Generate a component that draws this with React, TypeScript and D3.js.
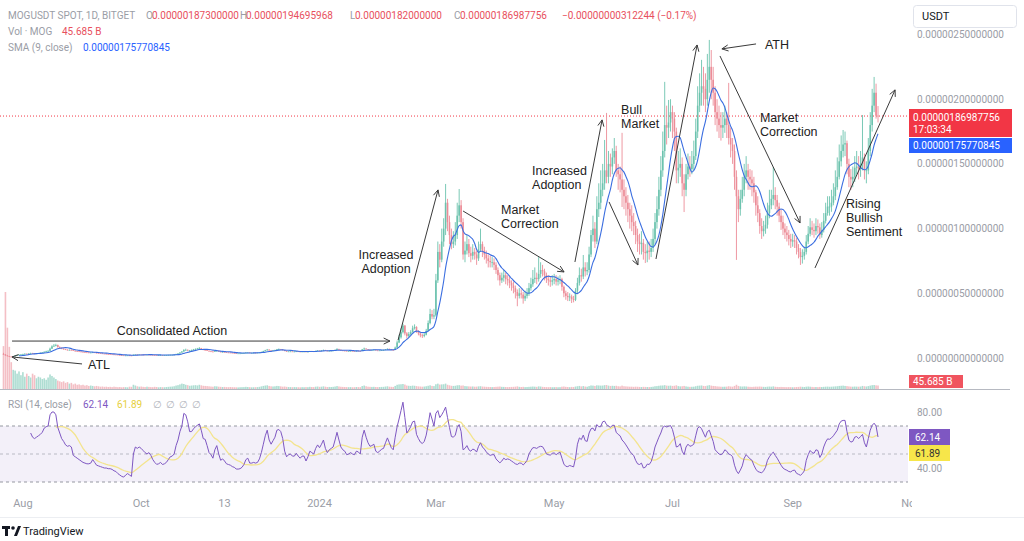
import React from 'react';
import * as d3 from 'd3';

// ---------- DATA (price in units of 1e-9 USDT) ----------
const START_UTC = Date.UTC(2023, 6, 22); // first daily candle
const DAY_MS = 86400000;
const FIRST_OPEN = 32;

const closes = [
  28, 20, 15, 11, 9, 13, 18, 22, 25, 28,
  30, 33, 31, 35, 38, 36, 34, 36, 38, 40,
  43, 48, 52, 55, 72, 90, 95, 100, 85, 78,
  72, 68, 64, 62, 63, 62, 56, 54, 52, 50,
  48, 46, 44, 43, 42, 42, 44, 41, 39, 38,
  36, 34, 33, 31, 30, 29, 28, 27, 26, 24,
  22, 21, 20, 20, 20.5, 19.5, 19, 25, 27, 26,
  27, 26.5, 26, 25.5, 26, 25.5, 24.5, 23.5, 22.5, 22,
  22.5, 23, 22, 22.5, 23, 24, 25, 25.5, 27, 31,
  35, 42, 50, 62, 63, 58, 58, 62, 66, 70,
  73, 76, 70, 63, 62, 56, 52, 50, 48, 54,
  57, 50, 46, 47, 45, 43, 42, 41, 39, 38,
  36, 36, 36, 37, 39, 42, 43, 40, 40, 41,
  40, 41, 43, 47, 53, 60, 65, 58, 56, 59,
  62, 67, 68, 66, 61, 54, 50, 51, 51, 50,
  50, 52, 50, 49, 50, 50, 47, 49, 53, 52,
  51, 55, 58, 56, 59, 62, 57, 54, 56, 57,
  58, 63, 70, 64, 59, 57, 56, 53, 54, 55,
  54, 53, 56, 55, 54, 66, 73, 68, 64, 62,
  63, 64, 59, 58, 59, 61, 62, 67, 71, 67,
  63, 62, 80, 120, 160, 200, 250, 190, 170, 185,
  200, 230, 240, 205, 190, 175, 170, 180, 210, 270,
  340, 320, 330, 600, 820, 760, 900, 1000, 1200, 1050,
  950, 880, 900, 950, 1100, 1180, 1050, 800, 830, 880,
  810, 790, 820, 800, 770, 840, 880, 830, 800, 770,
  750, 740, 740, 720, 680, 640, 600, 620, 640, 610,
  600, 580, 560, 540, 510, 480, 500, 490, 460, 480,
  500, 540, 570, 610, 620, 610, 650, 680, 670, 640,
  610, 600, 590, 600, 610, 590, 600, 610, 550, 500,
  480, 470, 475, 455, 450, 520, 580, 640, 630, 700,
  670, 680, 800, 950, 1000, 900, 1150, 1200, 1300, 1350,
  1450, 1400, 1500, 1480, 1550, 1600, 1450, 1420, 1380, 1300,
  1250, 1200, 1150, 1100, 1050, 1020, 950, 900, 880, 890,
  820, 810, 830, 820, 850, 920, 1050, 1150, 1300, 1450,
  1600, 1800, 1780, 1820, 1900, 1850, 1750, 1450, 1470, 1500,
  1350, 1300, 1420, 1480, 1460, 1500, 1560, 1750, 1950, 2050,
  2100, 2080, 2000, 2150, 2250, 2150, 2050, 1900, 1850, 1800,
  1780, 1800, 1850, 1800, 1700, 1650, 1600, 1400, 1250, 1150,
  1230, 1300, 1400, 1450, 1400, 1380, 1350, 1280, 1180, 1120,
  1020, 980, 1000, 1030, 1120, 1180, 1230, 1260, 1220, 1170,
  1100, 1050, 1000, 970, 950, 920, 900, 910, 900, 850,
  820, 780, 790, 820, 900, 960, 1010, 990, 980, 1020,
  1010, 950, 990, 1060, 1120, 1170, 1170, 1200, 1250, 1320,
  1400, 1520, 1600, 1650, 1660, 1500, 1400, 1380, 1400, 1470,
  1480, 1460, 1500, 1550, 1450, 1450, 1600, 1800, 1950, 2050,
  1873, 1869.9,
];

const highs = [
  40, 30, 22, 16, 13, 15, 20, 24, 28, 30,
  33, 36, 35, 37, 41, 40, 38, 38, 40, 43,
  46, 51, 56, 60, 80, 98, 108, 110, 104, 90,
  82, 76, 70, 67, 66, 66, 64, 58, 56, 54,
  52, 50, 48, 46, 45, 44, 46, 45, 42, 41,
  39, 37, 35, 34, 32, 31, 30, 29, 28, 27,
  25, 23, 22, 21, 22, 21, 20, 27, 29, 28,
  28, 28, 27.5, 27, 27, 27, 26, 25, 24, 23,
  23.5, 24, 23.5, 23.5, 24, 25, 26, 27, 28.5, 33,
  37, 45, 54, 68, 72, 66, 62, 65, 70, 74,
  78, 84, 78, 72, 66, 63, 58, 54, 52, 56,
  60, 58, 51, 49, 48, 46, 44, 43, 42, 40,
  39, 37, 37, 38, 40, 44, 45, 44, 41, 42,
  42, 42, 44, 49, 56, 63, 70, 67, 60, 62,
  64, 70, 74, 70, 67, 62, 55, 53, 53, 52,
  52, 54, 53, 51, 51, 52, 51, 50, 55, 55,
  53, 57, 60, 59, 61, 65, 63, 58, 57, 59,
  60, 65, 75, 71, 65, 60, 58, 57, 55, 56,
  56, 55, 57, 57, 56, 70, 80, 75, 69, 65,
  65, 66, 65, 60, 61, 63, 64, 69, 74, 72,
  68, 65, 88, 135, 180, 230, 265, 255, 200, 200,
  215, 250, 260, 245, 215, 200, 185, 195, 225, 290,
  380, 370, 380, 650, 900, 880, 1000, 1080, 1345, 1230,
  1100, 1000, 980, 1050, 1200, 1306, 1220, 1080, 900, 950,
  920, 860, 880, 850, 830, 900, 1000, 900, 860, 830,
  800, 790, 780, 770, 740, 700, 660, 660, 680, 660,
  640, 630, 600, 590, 560, 530, 540, 530, 510, 520,
  540, 580, 620, 680, 700, 660, 780, 740, 720, 690,
  660, 640, 630, 640, 650, 640, 630, 640, 620, 560,
  520, 510, 500, 490, 480, 540, 620, 700, 690, 796,
  740, 740, 860, 989, 1100, 1050, 1250, 1350, 1450, 1500,
  1685, 1894, 1600, 1580, 1620, 1700, 1640, 1500, 1480, 1740,
  1380, 1320, 1260, 1200, 1180, 1120, 1060, 1000, 960, 980,
  920, 880, 900, 900, 920, 1000, 1120, 1250, 1400, 1560,
  1750, 2134, 1950, 1994, 2000, 1950, 1900, 1780, 1600, 1620,
  1550, 1420, 1500, 1580, 1560, 1600, 1680, 1850, 2100, 2200,
  2304, 2250, 2200, 2350, 2458, 2380, 2250, 2100, 2000, 1950,
  1900, 1900, 1950, 1900, 2126, 1780, 1700, 1650, 1450, 1300,
  1300, 1400, 1500, 1560, 1500, 1460, 1450, 1400, 1300, 1250,
  1150, 1080, 1060, 1100, 1200, 1300, 1300, 1476, 1320, 1260,
  1200, 1150, 1100, 1040, 1020, 990, 960, 960, 950, 930,
  880, 850, 840, 860, 950, 1020, 1080, 1060, 1040, 1080,
  1070, 1040, 1050, 1120, 1200, 1250, 1250, 1300, 1350, 1450,
  1550, 1650, 1720, 1762, 1750, 1680, 1540, 1460, 1480, 1560,
  1600, 1560, 1600, 1878, 1580, 1520, 1700, 1900, 2080, 2172,
  2120, 1947,
];

const lows = [
  24, 17, 13, 9, 7, 8, 12, 17, 21, 24,
  26, 29, 29, 30, 34, 34, 32, 33, 35, 37,
  39, 42, 46, 50, 54, 70, 86, 90, 80, 74,
  68, 65, 61, 59, 60, 59, 54, 52, 50, 48,
  46, 44, 42, 41, 40, 40, 41, 39, 37, 36,
  35, 33, 32, 30, 29, 28, 27, 26, 25, 23,
  21, 20, 19, 19, 19, 18.5, 18, 19, 24, 25,
  25, 25.5, 25, 24.5, 24.5, 24.5, 23.5, 22.5, 21.5, 21,
  21.5, 22, 21, 21.5, 22, 22.5, 23.5, 24.5, 25, 26.5,
  30, 34, 41, 49, 58, 55, 54, 56, 60, 64,
  68, 71, 67, 60, 59, 54, 50, 48, 46, 47,
  52, 48, 44, 45, 43, 42, 40, 40, 38, 37,
  35, 35, 35, 35, 36, 38, 41, 39, 39, 39,
  39, 39, 40, 42, 46, 52, 58, 56, 54, 55,
  57, 61, 65, 64, 59, 52, 48, 49, 49, 48,
  48, 49, 49, 47, 48, 48, 46, 46, 48, 51,
  50, 50, 54, 55, 55, 58, 56, 53, 53, 55,
  56, 57, 62, 62, 58, 56, 55, 52, 52, 53,
  53, 52, 52, 54, 53, 53, 64, 66, 62, 60,
  61, 62, 58, 57, 57, 58, 60, 61, 66, 65,
  62, 60, 61, 78, 115, 150, 190, 175, 150, 160,
  175, 195, 220, 195, 175, 160, 155, 160, 175, 205,
  260, 300, 300, 320, 580, 700, 740, 860, 950, 980,
  880, 840, 850, 870, 920, 1050, 1000, 760, 740, 800,
  780, 740, 760, 760, 720, 750, 820, 780, 760, 730,
  700, 700, 700, 680, 650, 600, 560, 580, 590, 570,
  560, 540, 520, 500, 460, 400, 460, 460, 420, 440,
  460, 480, 520, 550, 580, 570, 590, 620, 630, 600,
  580, 560, 550, 560, 570, 560, 560, 570, 520, 470,
  450, 440, 440, 425, 430, 440, 500, 560, 590, 610,
  630, 640, 660, 780, 900, 850, 880, 1090, 1150, 1250,
  1300, 1350, 1350, 1400, 1420, 1500, 1400, 1300, 1280, 1167,
  1150, 1100, 1050, 1000, 980, 950, 880, 820, 800, 800,
  760, 734, 740, 760, 780, 820, 880, 1000, 1100, 1250,
  1400, 1550, 1650, 1700, 1750, 1700, 1600, 1350, 1350, 1400,
  1250, 1128, 1250, 1380, 1400, 1420, 1450, 1530, 1700, 1900,
  1950, 1950, 1900, 1950, 2050, 2000, 1950, 1800, 1750, 1700,
  1680, 1700, 1740, 1700, 1650, 1550, 1500, 1300, 758, 1050,
  1100, 1200, 1250, 1350, 1300, 1300, 1250, 1200, 1100, 1050,
  960, 920, 940, 960, 1000, 1080, 1150, 1180, 1150, 1100,
  1050, 990, 950, 920, 900, 870, 850, 860, 850, 800,
  770, 719, 730, 760, 800, 880, 940, 950, 930, 950,
  960, 920, 930, 970, 1040, 1100, 1100, 1130, 1180, 1220,
  1300, 1380, 1480, 1550, 1560, 1420, 1320, 1300, 1320, 1360,
  1420, 1380, 1400, 1450, 1380, 1350, 1420, 1560, 1750, 1900,
  1850, 1820,
];

// volume in billions of MOG
const volumes = [
  560, 1266, 800, 550, 350, 250, 240, 200, 230, 180,
  220, 160, 200, 170, 150, 200, 180, 140, 160, 150,
  130, 140, 120, 150, 190, 170, 150, 130, 110, 100,
  90, 100, 80, 90, 70, 80, 60, 70, 55, 60,
  50, 55, 45, 50, 40, 45, 40, 35, 40, 35,
  30, 32, 28, 30, 26, 28, 25, 30, 27, 24,
  26, 22, 25, 24, 22, 30, 28, 55, 45, 35,
  30, 32, 28, 26, 30, 27, 25, 24, 28, 26,
  22, 25, 24, 23, 26, 28, 30, 32, 36, 45,
  50, 60, 70, 65, 55, 50, 42, 45, 48, 50,
  46, 55, 48, 42, 40, 38, 35, 32, 30, 36,
  34, 30, 28, 26, 27, 25, 24, 26, 24, 23,
  22, 21, 23, 24, 25, 28, 26, 24, 22, 23,
  24, 25, 28, 34, 40, 45, 48, 40, 35, 33,
  35, 40, 38, 34, 30, 32, 28, 26, 25, 24,
  25, 24, 23, 22, 24, 23, 25, 24, 28, 26,
  25, 30, 32, 28, 30, 34, 30, 26, 27, 26,
  28, 32, 38, 33, 29, 27, 26, 25, 24, 25,
  23, 24, 26, 25, 24, 38, 45, 36, 30, 28,
  27, 28, 26, 25, 26, 27, 28, 32, 35, 30,
  28, 27, 40, 55, 60, 62, 65, 58, 45, 42,
  40, 44, 42, 38, 34, 32, 30, 32, 36, 42,
  48, 40, 38, 62, 70, 58, 60, 62, 70, 55,
  48, 42, 40, 42, 48, 50, 44, 46, 38, 36,
  34, 32, 33, 30, 31, 34, 36, 32, 30, 28,
  27, 26, 25, 26, 28, 30, 32, 28, 27, 26,
  25, 26, 27, 28, 30, 34, 28, 26, 28, 25,
  26, 28, 30, 32, 30, 28, 34, 32, 28, 26,
  25, 24, 25, 23, 24, 25, 23, 24, 30, 32,
  28, 26, 24, 27, 26, 32, 36, 40, 34, 38,
  32, 30, 38, 46, 44, 40, 48, 46, 44, 45,
  50, 52, 44, 40, 42, 40, 42, 36, 34, 44,
  36, 34, 32, 30, 30, 28, 30, 29, 27, 26,
  28, 27, 26, 25, 27, 30, 36, 38, 42, 45,
  46, 50, 44, 42, 44, 40, 42, 48, 38, 34,
  36, 40, 34, 30, 28, 29, 30, 36, 42, 44,
  46, 40, 38, 44, 50, 44, 40, 38, 34, 32,
  30, 29, 30, 31, 36, 32, 30, 40, 55, 40,
  34, 32, 34, 33, 30, 28, 27, 29, 31, 30,
  32, 30, 28, 27, 30, 32, 30, 34, 29, 27,
  26, 27, 26, 25, 24, 25, 24, 23, 24, 26,
  27, 30, 28, 26, 30, 32, 30, 27, 25, 26,
  25, 27, 26, 28, 30, 31, 29, 30, 32, 34,
  36, 40, 42, 44, 40, 38, 34, 31, 30, 32,
  31, 30, 32, 40, 36, 33, 38, 44, 50, 52,
  48, 45.685,
];

const RSI_START = 14;
const rsiValues = [
  65, 62, 61, 62, 63, 64, 65.5, 68.5, 69.5, 70,
  78, 80, 80, 78, 69, 65, 61, 59, 56.5, 55.5,
  56, 55, 49, 48, 47, 46, 45, 44, 43.5, 43,
  43, 43.5, 46, 44, 42, 41.5, 41, 40.5, 40, 40,
  39.5, 39.5, 39, 38, 37.5, 36, 35, 34, 33.5, 35,
  36, 35, 34, 50, 55, 54, 55, 54, 52.5, 51,
  50, 51, 49, 46, 44, 42.6, 43, 44, 42.5, 43,
  44, 46, 48, 48.5, 50, 56, 60, 66, 70, 79,
  78, 73, 66, 66, 68, 69.5, 70.5, 71.5, 67, 61,
  60.5, 56, 51, 49.5, 47, 53, 56, 50, 45.5, 46.5,
  45, 43, 42.5, 42, 41, 40.5, 39.3, 39.2, 39.5, 40.5,
  42.5, 46, 47, 43.5, 43.5, 44, 43.5, 44, 46.5, 51,
  57, 63, 67, 60, 57, 59.5, 62, 67, 67.5, 66,
  61, 52, 48, 49.5, 50, 48.5, 48.5, 50.5, 48.5, 47,
  48.5, 48.5, 45, 48, 52, 51, 50, 54, 56.5, 54.5,
  57, 60, 54, 51, 53, 54, 55, 60, 65.5, 60,
  55, 53, 52, 49.5, 50, 51, 50, 49.5, 52, 51.5,
  50, 62, 67, 62, 58, 55.5, 56, 57, 52, 51,
  52, 53.5, 54, 58, 61.5, 58, 54.5, 53, 62, 69.5,
  75, 81, 87, 76, 65, 67, 69.5, 73, 73.5, 64,
  61, 58.5, 57.5, 59, 63.5, 71, 79.5, 75, 70, 79,
  81, 76, 78, 80.5, 83.5, 76, 69, 62.5, 62, 63.5,
  69, 71, 66, 53, 54, 56, 53, 52, 53.5, 53,
  51.4, 55.5, 58, 55, 53.5, 51.5, 50, 49, 49.5, 49.5,
  46.5, 45, 43.7, 45, 47, 46, 46.5, 46, 45, 44,
  43, 42.5, 43.5, 43.5, 42.2, 43.5, 45.5, 50, 52.5, 54.5,
  54.5, 54, 55, 55.5, 55.2, 53, 50.2, 49.5, 49.2, 50.5,
  50.8, 49.5, 50.5, 51.4, 47, 42.8, 41.2, 41, 41.8, 41.3,
  40.8, 47, 57, 61.5, 60.3, 63.5, 59.5, 59, 65, 68,
  68.5, 66.5, 71, 69.5, 69.5, 73, 73.5, 71, 70, 69,
  70.5, 70.5, 65.5, 64, 63, 60, 58.5, 56.5, 54.3, 52,
  50.2, 49, 45.5, 43, 42.5, 43.5, 40, 40.5, 42.8, 42.5,
  44.5, 49, 55, 58.5, 62, 65, 69, 70, 69.3, 69.8,
  70.3, 67.5, 62, 55, 55.5, 57.4, 52, 49.5, 55, 57,
  55.5, 56, 57, 63, 68.5, 69.5, 68, 65, 62, 66,
  67, 63, 59, 53, 51.5, 50, 49.5, 50.5, 53, 52,
  50, 49.5, 48, 42, 38, 36, 38.5, 41.5, 47, 49.5,
  48, 46.5, 45.5, 42, 39.2, 37.5, 37, 36.5, 38, 40.5,
  45.5, 48, 50, 51.3, 49, 47, 44.5, 42, 40, 39,
  38.4, 37.5, 37.2, 38.2, 38.5, 36.2, 35.5, 34.8, 36, 38,
  45.5, 49.5, 52.5, 51, 50.5, 53, 52.5, 47.5, 50, 55,
  58.5, 60.8, 60.5, 61.5, 63, 65, 67, 71.5, 73.5, 74,
  74, 66, 60, 58.5, 59, 62, 62.5, 61, 62.5, 64,
  58, 55, 61, 67, 70.5, 72, 70, 62.14,
];

const priceTicks = [0, 500, 1000, 1500, 2000, 2500];
const rsiTicks = [80, 40];
const rsiLevels = [70, 50, 30];
const timeTicks = [
  { date: Date.UTC(2023, 7, 1), label: 'Aug' },
  { date: Date.UTC(2023, 9, 1), label: 'Oct' },
  { date: Date.UTC(2023, 10, 13), label: '13' },
  { date: Date.UTC(2024, 0, 1), label: '2024' },
  { date: Date.UTC(2024, 2, 1), label: 'Mar' },
  { date: Date.UTC(2024, 4, 1), label: 'May' },
  { date: Date.UTC(2024, 6, 1), label: 'Jul' },
  { date: Date.UTC(2024, 8, 1), label: 'Sep' },
  { date: Date.UTC(2024, 10, 1), label: 'Nov' },
];

// annotations in data space: [dayIndex, price] pairs
const arrows = [
  [4.4, 131, 199.3, 131],
  [40.5, -46, 4.4, 8],
  [203.5, 139, 224.1, 1299],
  [237, 1136, 289.1, 665],
  [294.7, 742, 308.7, 1840],
  [312.3, 1206, 327.2, 719],
  [336.5, 765, 357.7, 2419],
  [388.1, 2427, 370.5, 2389],
  [369.5, 2334, 410.8, 1044],
  [418.5, 696, 459.8, 2072],
];
// first-line anchor in data space; further lines stack below
const notes: { day: number; price: number; lines: string[]; anchor: string }[] = [
  { day: 86.9, price: 178, lines: ['Consolidated Action'], anchor: 'middle' },
  { day: 43.6, price: -85, lines: ['ATL'], anchor: 'start' },
  { day: 197.3, price: 765, lines: ['Increased', 'Adoption'], anchor: 'middle' },
  { day: 256.6, price: 1112, lines: ['Market', 'Correction'], anchor: 'start' },
  { day: 272.6, price: 1415, lines: ['Increased', 'Adoption'], anchor: 'start' },
  { day: 318.5, price: 1886, lines: ['Bull', 'Market'], anchor: 'start' },
  { day: 392.7, price: 2389, lines: ['ATH'], anchor: 'start' },
  { day: 390.1, price: 1824, lines: ['Market', 'Correction'], anchor: 'start' },
  { day: 434.5, price: 1160, lines: ['Rising', 'Bullish', 'Sentiment'], anchor: 'start' },
];

const LAST_PRICE_TEXT = '0.00000186987756';
const LAST_SMA = 1757.70845;
const LAST_SMA_TEXT = '0.00000175770845';
const COUNTDOWN = '17:03:34';
const LAST_VOL_TEXT = '45.685 B';
const RSI_TEXT = '62.14';
const RSI_MA_TEXT = '61.89';

// ---------- STYLE ----------
const UP = '#6cc3ae';
const DOWN = '#ec8c97';
const GRAY_TXT = '#9a9da6';
const FONT = 'Roboto, "Noto Sans", sans-serif';
const NOTE_FONT = '"Liberation Sans", Arial, sans-serif';

export default function App() {
  const W = 1024;
  const H = 541;
  const paneRight = 908;

  const dateOf = (i: number) => new Date(START_UTC + i * DAY_MS);
  const x = d3
    .scaleUtc()
    .domain([dateOf(0), dateOf(closes.length - 1)])
    .range([3.5, 878]);
  const xd = (day: number) => x(new Date(START_UTC + day * DAY_MS));
  const y = d3.scaleLinear().domain([0, 2500]).range([358, 34.5]);
  const yVol = d3.scaleLinear().domain([0, d3.max(volumes) as number]).range([389, 292]);
  const yRsi = d3.scaleLinear().domain([30, 70]).range([482, 426]);

  const opens = [FIRST_OPEN, ...closes.slice(0, -1)];

  const sma: { i: number; v: number }[] = [];
  for (let i = 8; i < closes.length; i++) {
    sma.push({ i, v: d3.mean(closes.slice(i - 8, i + 1)) as number });
  }
  const smaPath = d3
    .line<{ i: number; v: number }>()
    .x((d) => xd(d.i))
    .y((d) => y(d.v))
    .curve(d3.curveMonotoneX)(sma);

  const rsi = rsiValues.map((v, k) => ({ i: k + RSI_START, v }));
  const rsiMa: { i: number; v: number }[] = [];
  for (let k = 13; k < rsiValues.length; k++) {
    rsiMa.push({ i: k + RSI_START, v: d3.mean(rsiValues.slice(k - 13, k + 1)) as number });
  }
  const rsiLine = d3
    .line<{ i: number; v: number }>()
    .x((d) => xd(d.i))
    .y((d) => yRsi(d.v));

  const lastClose = closes[closes.length - 1];
  const fmt = (v: number) => (v * 1e-9).toFixed(14);

  const arrowEls = arrows.map((a, k) => {
    const x1 = xd(a[0]);
    const y1 = y(a[1]);
    const x2 = xd(a[2]);
    const y2 = y(a[3]);
    const ang = Math.atan2(y2 - y1, x2 - x1);
    const L = 7;
    const sp = 0.45;
    const h1x = x2 - L * Math.cos(ang - sp);
    const h1y = y2 - L * Math.sin(ang - sp);
    const h2x = x2 - L * Math.cos(ang + sp);
    const h2y = y2 - L * Math.sin(ang + sp);
    return (
      <g key={k} stroke="#3a3a3a" strokeWidth={1} fill="none">
        <line x1={x1} y1={y1} x2={x2} y2={y2} />
        <polyline points={`${h1x},${h1y} ${x2},${y2} ${h2x},${h2y}`} />
      </g>
    );
  });

  return (
    <div>
      <style>{`body{margin:0;background:#fff}`}</style>
      <svg width={W} height={H} style={{ display: 'block', background: '#fff' }} fontFamily={FONT}>
        <defs>
          <clipPath id="pane">
            <rect x={0} y={0} width={paneRight} height={389} />
          </clipPath>
          <clipPath id="rsipane">
            <rect x={0} y={391} width={paneRight} height={100} />
          </clipPath>
          <clipPath id="timeaxis">
            <rect x={0} y={490} width={912} height={30} />
          </clipPath>
        </defs>

        {/* volume */}
        <g clipPath="url(#pane)" opacity={0.55}>
          {volumes.map((v, i) => (
            <rect
              key={i}
              x={xd(i) - 0.8}
              width={1.6}
              y={yVol(v)}
              height={389 - yVol(v)}
              fill={closes[i] >= opens[i] ? UP : DOWN}
            />
          ))}
        </g>

        {/* last price line */}
        <line x1={0} x2={paneRight} y1={y(lastClose)} y2={y(lastClose)} stroke="#f23645" strokeDasharray="1,2" strokeWidth={1} />

        {/* candles */}
        <g clipPath="url(#pane)">
          {closes.map((c, i) => {
            const o = opens[i];
            const col = c >= o ? UP : DOWN;
            const cx = xd(i);
            const top = y(Math.max(o, c));
            const bh = Math.max(0.8, Math.abs(y(o) - y(c)));
            return (
              <g key={i}>
                <line x1={cx} x2={cx} y1={y(highs[i])} y2={y(lows[i])} stroke={col} strokeWidth={0.9} />
                <rect x={cx - 0.8} width={1.6} y={top} height={bh} fill={col} />
              </g>
            );
          })}
          <path d={smaPath || ''} fill="none" stroke="#3b6ee0" strokeWidth={1.1} />
        </g>

        {/* annotations */}
        {arrowEls}
        <g fontFamily={NOTE_FONT} fontSize={12.5} fill="#222">
          {notes.map((n, k) => (
            <text key={k} x={xd(n.day)} y={y(n.price)} textAnchor={n.anchor as any}>
              {n.lines.map((ln, j) => (
                <tspan key={j} x={xd(n.day)} dy={j === 0 ? 0 : 14}>
                  {ln}
                </tspan>
              ))}
            </text>
          ))}
        </g>

        {/* header legend */}
        <g fontSize={10}>
          <text x={8} y={18.5} fill={GRAY_TXT}>MOGUSDT SPOT, 1D, BITGET</text>
          <text x={146} y={18.5} fill={GRAY_TXT}>O</text>
          <text x={152} y={18.5} fill="#e8505d">0.00000187300000</text>
          <text x={240} y={18.5} fill={GRAY_TXT}>H</text>
          <text x={246} y={18.5} fill="#e8505d">0.00000194695968</text>
          <text x={350} y={18.5} fill={GRAY_TXT}>L</text>
          <text x={355} y={18.5} fill="#e8505d">0.00000182000000</text>
          <text x={454} y={18.5} fill={GRAY_TXT}>C</text>
          <text x={460} y={18.5} fill="#e8505d">0.00000186987756</text>
          <text x={562} y={18.5} fill="#e8505d">−0.00000000312244 (−0.17%)</text>
          <text x={8} y={34.5} fill={GRAY_TXT}>Vol · MOG</text>
          <text x={62} y={34.5} fill="#e8505d">{LAST_VOL_TEXT}</text>
          <text x={8} y={50.5} fill={GRAY_TXT}>SMA (9, close)</text>
          <text x={83} y={50.5} fill="#2962ff">{LAST_SMA_TEXT}</text>
        </g>

        {/* price axis */}
        <rect x={913.5} y={5.5} width={103} height={22} rx={3} fill="#fff" stroke="#e0e3eb" />
        <text x={922} y={20} fontSize={11} fill="#131722">USDT</text>
        <g fontSize={10} fill={GRAY_TXT}>
          {priceTicks.map((t) => (
            <text key={t} x={917} y={y(t)} dy="0.35em">
              {fmt(t)}
            </text>
          ))}
        </g>
        <rect x={909} y={109} width={103} height={28} fill="#f23645" />
        <text x={913} y={121} fontSize={10} fill="#fff">{LAST_PRICE_TEXT}</text>
        <text x={913} y={133} fontSize={10} fill="#fff">{COUNTDOWN}</text>
        <rect x={909} y={Math.max(y(LAST_SMA) - 7, 138)} width={103} height={15} fill="#2962ff" />
        <text x={913} y={Math.max(y(LAST_SMA) - 7, 138) + 11} fontSize={10} fill="#fff">{LAST_SMA_TEXT}</text>
        <rect x={909} y={375} width={54} height={13} fill="#f0545f" />
        <text x={913} y={385} fontSize={10} fill="#fff">{LAST_VOL_TEXT}</text>

        {/* pane separator */}
        <line x1={0} x2={1010} y1={389.5} y2={389.5} stroke="#b6b9c1" strokeWidth={1} />

        {/* RSI pane */}
        <rect x={0} y={yRsi(70)} width={paneRight} height={yRsi(30) - yRsi(70)} fill="#7e57c2" fillOpacity={0.09} />
        {rsiLevels.map((lv) => (
          <line
            key={lv}
            x1={0}
            x2={paneRight}
            y1={yRsi(lv)}
            y2={yRsi(lv)}
            stroke={lv === 50 ? '#b9bac4' : '#9598a1'}
            strokeDasharray="3,3"
            strokeWidth={1}
          />
        ))}
        <g clipPath="url(#rsipane)">
          <path d={rsiLine(rsiMa) || ''} fill="none" stroke="#f3e48e" strokeWidth={1.3} />
          <path d={rsiLine(rsi) || ''} fill="none" stroke="#7e57c2" strokeWidth={1} />
        </g>
        <g fontSize={10}>
          <text x={8} y={408} fill={GRAY_TXT}>RSI (14, close)</text>
          <text x={83} y={408} fill="#7e57c2">{RSI_TEXT}</text>
          <text x={117} y={408} fill="#e6cf3c">{RSI_MA_TEXT}</text>
          {[153, 166, 179, 192].map((px) => (
            <text key={px} x={px} y={408} fill="#b0b3bb">∅</text>
          ))}
        </g>
        <g fontSize={10} fill={GRAY_TXT}>
          {rsiTicks.map((t) => (
            <text key={t} x={917} y={yRsi(t)} dy="0.35em">
              {t.toFixed(2)}
            </text>
          ))}
        </g>
        <rect x={909} y={yRsi(62.14) - 8} width={41} height={16} fill="#7e57c2" />
        <text x={915} y={yRsi(62.14) + 3.5} fontSize={10} fill="#fff">{RSI_TEXT}</text>
        <rect x={909} y={yRsi(62.14) + 8} width={41} height={16} fill="#f7e64a" />
        <text x={915} y={yRsi(62.14) + 19.5} fontSize={10} fill="#333">{RSI_MA_TEXT}</text>

        {/* time axis */}
        <g fontSize={11} fill={GRAY_TXT} clipPath="url(#timeaxis)">
          {timeTicks.map((t) => (
            <text key={t.label} x={x(new Date(t.date))} y={507} textAnchor="middle">
              {t.label}
            </text>
          ))}
        </g>
        <line x1={0} x2={W} y1={517.5} y2={517.5} stroke="#eceef2" />

        {/* logo */}
        <g fill="#131722">
          <rect x={2} y={526} width={8} height={3} />
          <rect x={5} y={526} width={3} height={10} />
          <circle cx={13} cy={528} r={1.8} />
          <polygon points="14,536 18,526 21,526 17,536" />
        </g>
        <text x={23} y={535} fontSize={11} fill="#131722">TradingView</text>
      </svg>
    </div>
  );
}
